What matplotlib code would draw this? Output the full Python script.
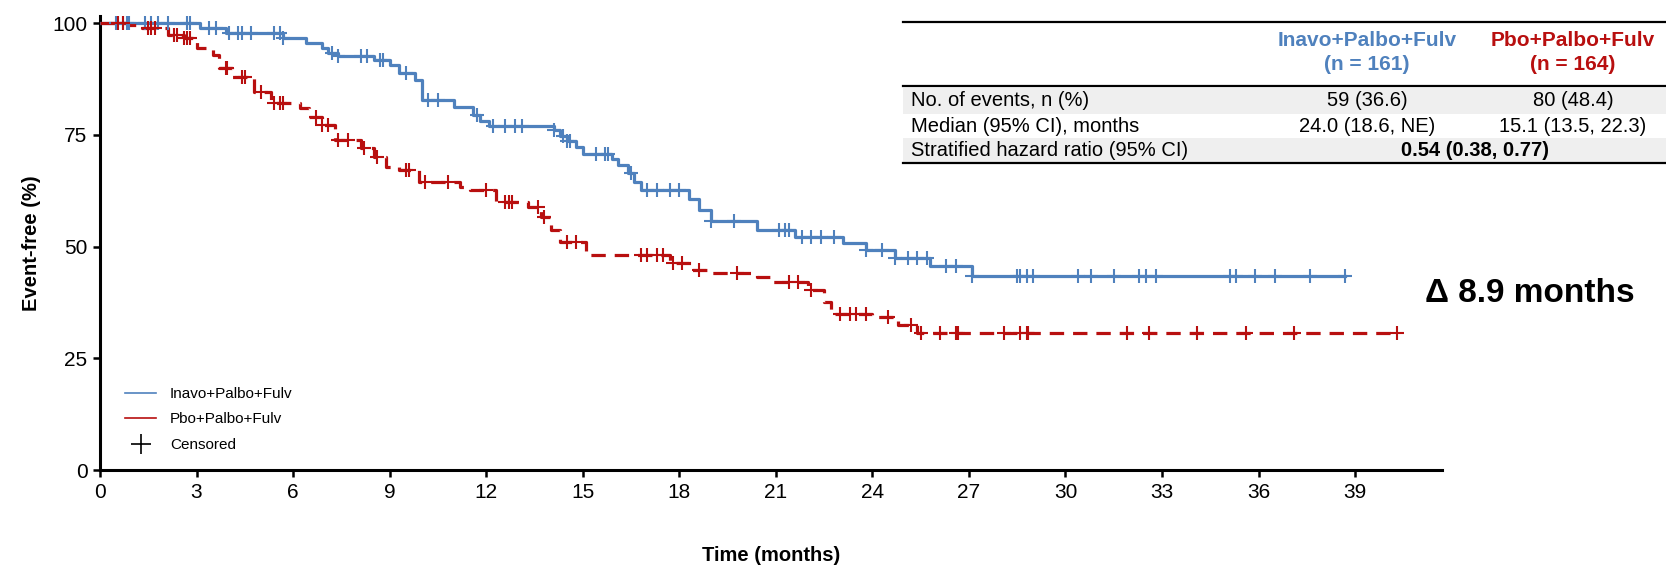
import numpy as np
import matplotlib
matplotlib.use("Agg")
import matplotlib.pyplot as plt
from matplotlib.lines import Line2D

plt.rcParams['font.family'] = ['Liberation Sans', 'DejaVu Sans']

# ---------------------------------------------------
# DATA
# ---------------------------------------------------
blue_t = [0, 3.1, 3.9, 5.7, 6.4, 6.9, 7.1, 7.4, 8.5, 9.0, 9.3, 9.8, 10.0, 11.0,
          11.6, 11.8, 12.1, 14.1, 14.3, 14.5, 14.8, 15.0, 15.9, 16.1, 16.4,
          16.6, 16.8, 18.3, 18.6, 19.0, 20.4, 21.6, 23.1, 23.8, 24.7, 25.8, 27.1]
blue_s = [100, 98.9, 97.8, 96.6, 95.5, 94.4, 93.3, 92.6, 91.7, 90.6, 88.8, 87.2,
          82.8, 81.2, 79.5, 78.0, 77.0, 76.1, 74.7, 73.5, 72.3, 70.8, 69.5, 68.3,
          66.5, 64.5, 62.6, 60.6, 58.2, 55.7, 53.6, 52.2, 50.8, 49.3, 47.5, 45.7, 43.4]
blue_end = 38.7
blue_cens = [0.5, 0.7, 0.85, 0.9, 1.4, 1.6, 1.8, 2.1, 2.7, 2.8, 3.4, 3.6, 4.0, 4.3,
             4.4, 4.7, 5.4, 5.6, 5.7, 7.2, 7.4, 8.1, 8.3, 8.7, 8.8, 9.5, 10.2, 10.5,
             11.7, 12.2, 12.6, 12.9, 13.1, 14.1, 14.4, 14.5, 14.6, 15.4, 15.7, 15.8,
             16.5, 17.0, 17.3, 17.7, 18.0, 19.0, 19.7, 21.1, 21.3, 21.4, 21.8, 22.1,
             22.4, 22.8, 23.8, 24.3, 24.7, 25.1, 25.4, 25.7, 26.3, 26.6, 27.1, 28.5,
             28.6, 28.8, 29.0, 30.4, 30.8, 31.5, 32.3, 32.5, 32.8, 35.1, 35.3, 35.9,
             36.5, 37.6, 38.7]

red_t = [0, 0.9, 1.3, 2.1, 2.6, 3.0, 3.5, 3.7, 4.1, 4.8, 5.3, 6.2, 6.5, 6.9, 7.3,
         8.1, 8.5, 8.9, 9.3, 9.9, 11.2, 11.5, 12.3, 13.3, 13.7, 14.0, 14.3, 15.1,
         17.7, 18.4, 19.0, 20.4, 20.9, 22.0, 22.5, 22.7, 24.0, 24.8, 25.4]
red_s = [100, 99.5, 98.9, 97.3, 96.6, 94.4, 92.8, 89.9, 87.9, 84.6, 82.1, 81.0,
         79.0, 77.2, 73.8, 72.0, 70.0, 67.8, 67.1, 64.4, 63.3, 62.6, 60.0, 58.8,
         56.6, 53.7, 51.0, 48.1, 46.3, 44.7, 44.1, 43.2, 42.1, 40.3, 37.6, 35.0,
         34.2, 32.4, 30.7]
red_end = 40.3
red_cens = [0.56, 0.71, 1.5, 1.6, 1.7, 2.3, 2.4, 2.6, 2.7, 2.8, 3.9, 3.95, 4.4, 4.5,
            5.0, 5.4, 5.6, 5.7, 6.7, 6.9, 7.1, 7.4, 7.7, 8.2, 8.6, 9.5, 9.6, 10.1,
            10.8, 12.0, 12.6, 12.7, 12.8, 13.6, 13.8, 14.5, 14.8, 16.8, 17.0, 17.3,
            17.5, 17.8, 18.1, 18.6, 19.8, 21.4, 21.7, 22.1, 23.0, 23.3, 23.5, 23.8,
            24.5, 25.2, 25.5, 26.1, 26.6, 26.65, 28.1, 28.6, 28.8, 28.85, 31.9, 32.6,
            34.1, 35.6, 37.1, 40.3]

arm_names = ['Inavo+Palbo+Fulv', 'Pbo+Palbo+Fulv']
arm_n = ['(n = 161)', '(n = 164)']
row_labels = ['No. of events, n (%)', 'Median (95% CI), months',
              'Stratified hazard ratio (95% CI)']
events = ['59 (36.6)', '80 (48.4)']
medians = ['24.0 (18.6, NE)', '15.1 (13.5, 22.3)']
hr_text = '0.54 (0.38, 0.77)'

BLUE = '#4F81BD'
RED = '#B80F0F'


def censor_y(t, s, cens):
    idx = np.searchsorted(t, cens, side='right') - 1
    return np.array(s)[idx]


# ---------------------------------------------------
# FIGURE
# ---------------------------------------------------
fig = plt.figure(figsize=(16.66, 5.66), dpi=100)
ax = fig.add_axes([100 / 1666, 96 / 566, 1342 / 1666, 453.7 / 566])

# blue arm
bt = list(blue_t) + [blue_end]
bs = list(blue_s) + [blue_s[-1]]
ax.step(bt, bs, where='post', color=BLUE, lw=2.3, zorder=3)
ax.plot(blue_cens, censor_y(blue_t, blue_s, blue_cens), ls='none', marker='+',
        ms=10, mew=1.5, color=BLUE, zorder=4)

# red arm (dashed)
rt = list(red_t) + [red_end]
rs = list(red_s) + [red_s[-1]]
ax.step(rt, rs, where='post', color=RED, lw=2.3, dashes=(4.5, 2.8), zorder=3)
ax.plot(red_cens, censor_y(red_t, red_s, red_cens), ls='none', marker='+',
        ms=10, mew=1.5, color=RED, zorder=4)

ax.set_xlim(0, 41.7)
ax.set_ylim(0, 101.5)
ax.set_xticks(np.arange(0, 40, 3))
ax.set_yticks([0, 25, 50, 75, 100])
ax.spines['top'].set_visible(False)
ax.spines['right'].set_visible(False)
ax.spines['left'].set_linewidth(2.2)
ax.spines['bottom'].set_linewidth(2.2)
ax.tick_params(width=1.8, length=5, labelsize=15, pad=4)

ax.set_ylabel('Event-free (%)', fontsize=14.5, fontweight='bold', labelpad=8)
ax.set_xlabel('Time (months)', fontsize=14.5, fontweight='bold', labelpad=32)

handles = [Line2D([], [], color=BLUE, lw=1.2),
           Line2D([], [], color=RED, lw=1.2),
           Line2D([], [], color='black', ls='none', marker='+', ms=14, mew=1.2)]
ax.legend(handles, arm_names + ['Censored'], loc='lower left',
          bbox_to_anchor=(0.019, 0.04), frameon=False, fontsize=11,
          handlelength=2.0, handletextpad=0.9, labelspacing=0.75,
          borderaxespad=0, borderpad=0)

ax.text(0.987, 0.39, '\u0394 8.9 months', transform=ax.transAxes,
        fontsize=24, fontweight='bold', ha='left', va='center')

# ---------------------------------------------------
# SUMMARY TABLE (pixel overlay)
# ---------------------------------------------------
tab = fig.add_axes([0, 0, 1, 1], zorder=5)
tab.set_xlim(0, 1666)
tab.set_ylim(566, 0)
tab.axis('off')

x0, x1 = 903, 1666
col_x = [1367, 1573]
tab.fill_between([x0, x1], 88, 114, color='#EFEFEF', lw=0)
tab.fill_between([x0, x1], 138, 162, color='#EFEFEF', lw=0)
for y in [22, 86, 163]:
    tab.plot([x0, x1], [y, y], color='black', lw=1.6)

for cx, name, n, col in zip(col_x, arm_names, arm_n, [BLUE, RED]):
    tab.text(cx, 41, name, color=col, fontsize=15, fontweight='bold',
             ha='center', va='center')
    tab.text(cx, 65, n, color=col, fontsize=15, fontweight='bold',
             ha='center', va='center')

rows_y = [101, 126, 150]
for y, lab in zip(rows_y, row_labels):
    tab.text(911, y, lab, fontsize=14.5, ha='left', va='center')
for cx, ev, md in zip(col_x, events, medians):
    tab.text(cx, rows_y[0], ev, fontsize=14.5, ha='center', va='center')
    tab.text(cx, rows_y[1], md, fontsize=14.5, ha='center', va='center')
tab.text(1475, rows_y[2], hr_text, fontsize=14.5, fontweight='bold',
         ha='center', va='center')

fig.savefig('out.png', dpi=100)
